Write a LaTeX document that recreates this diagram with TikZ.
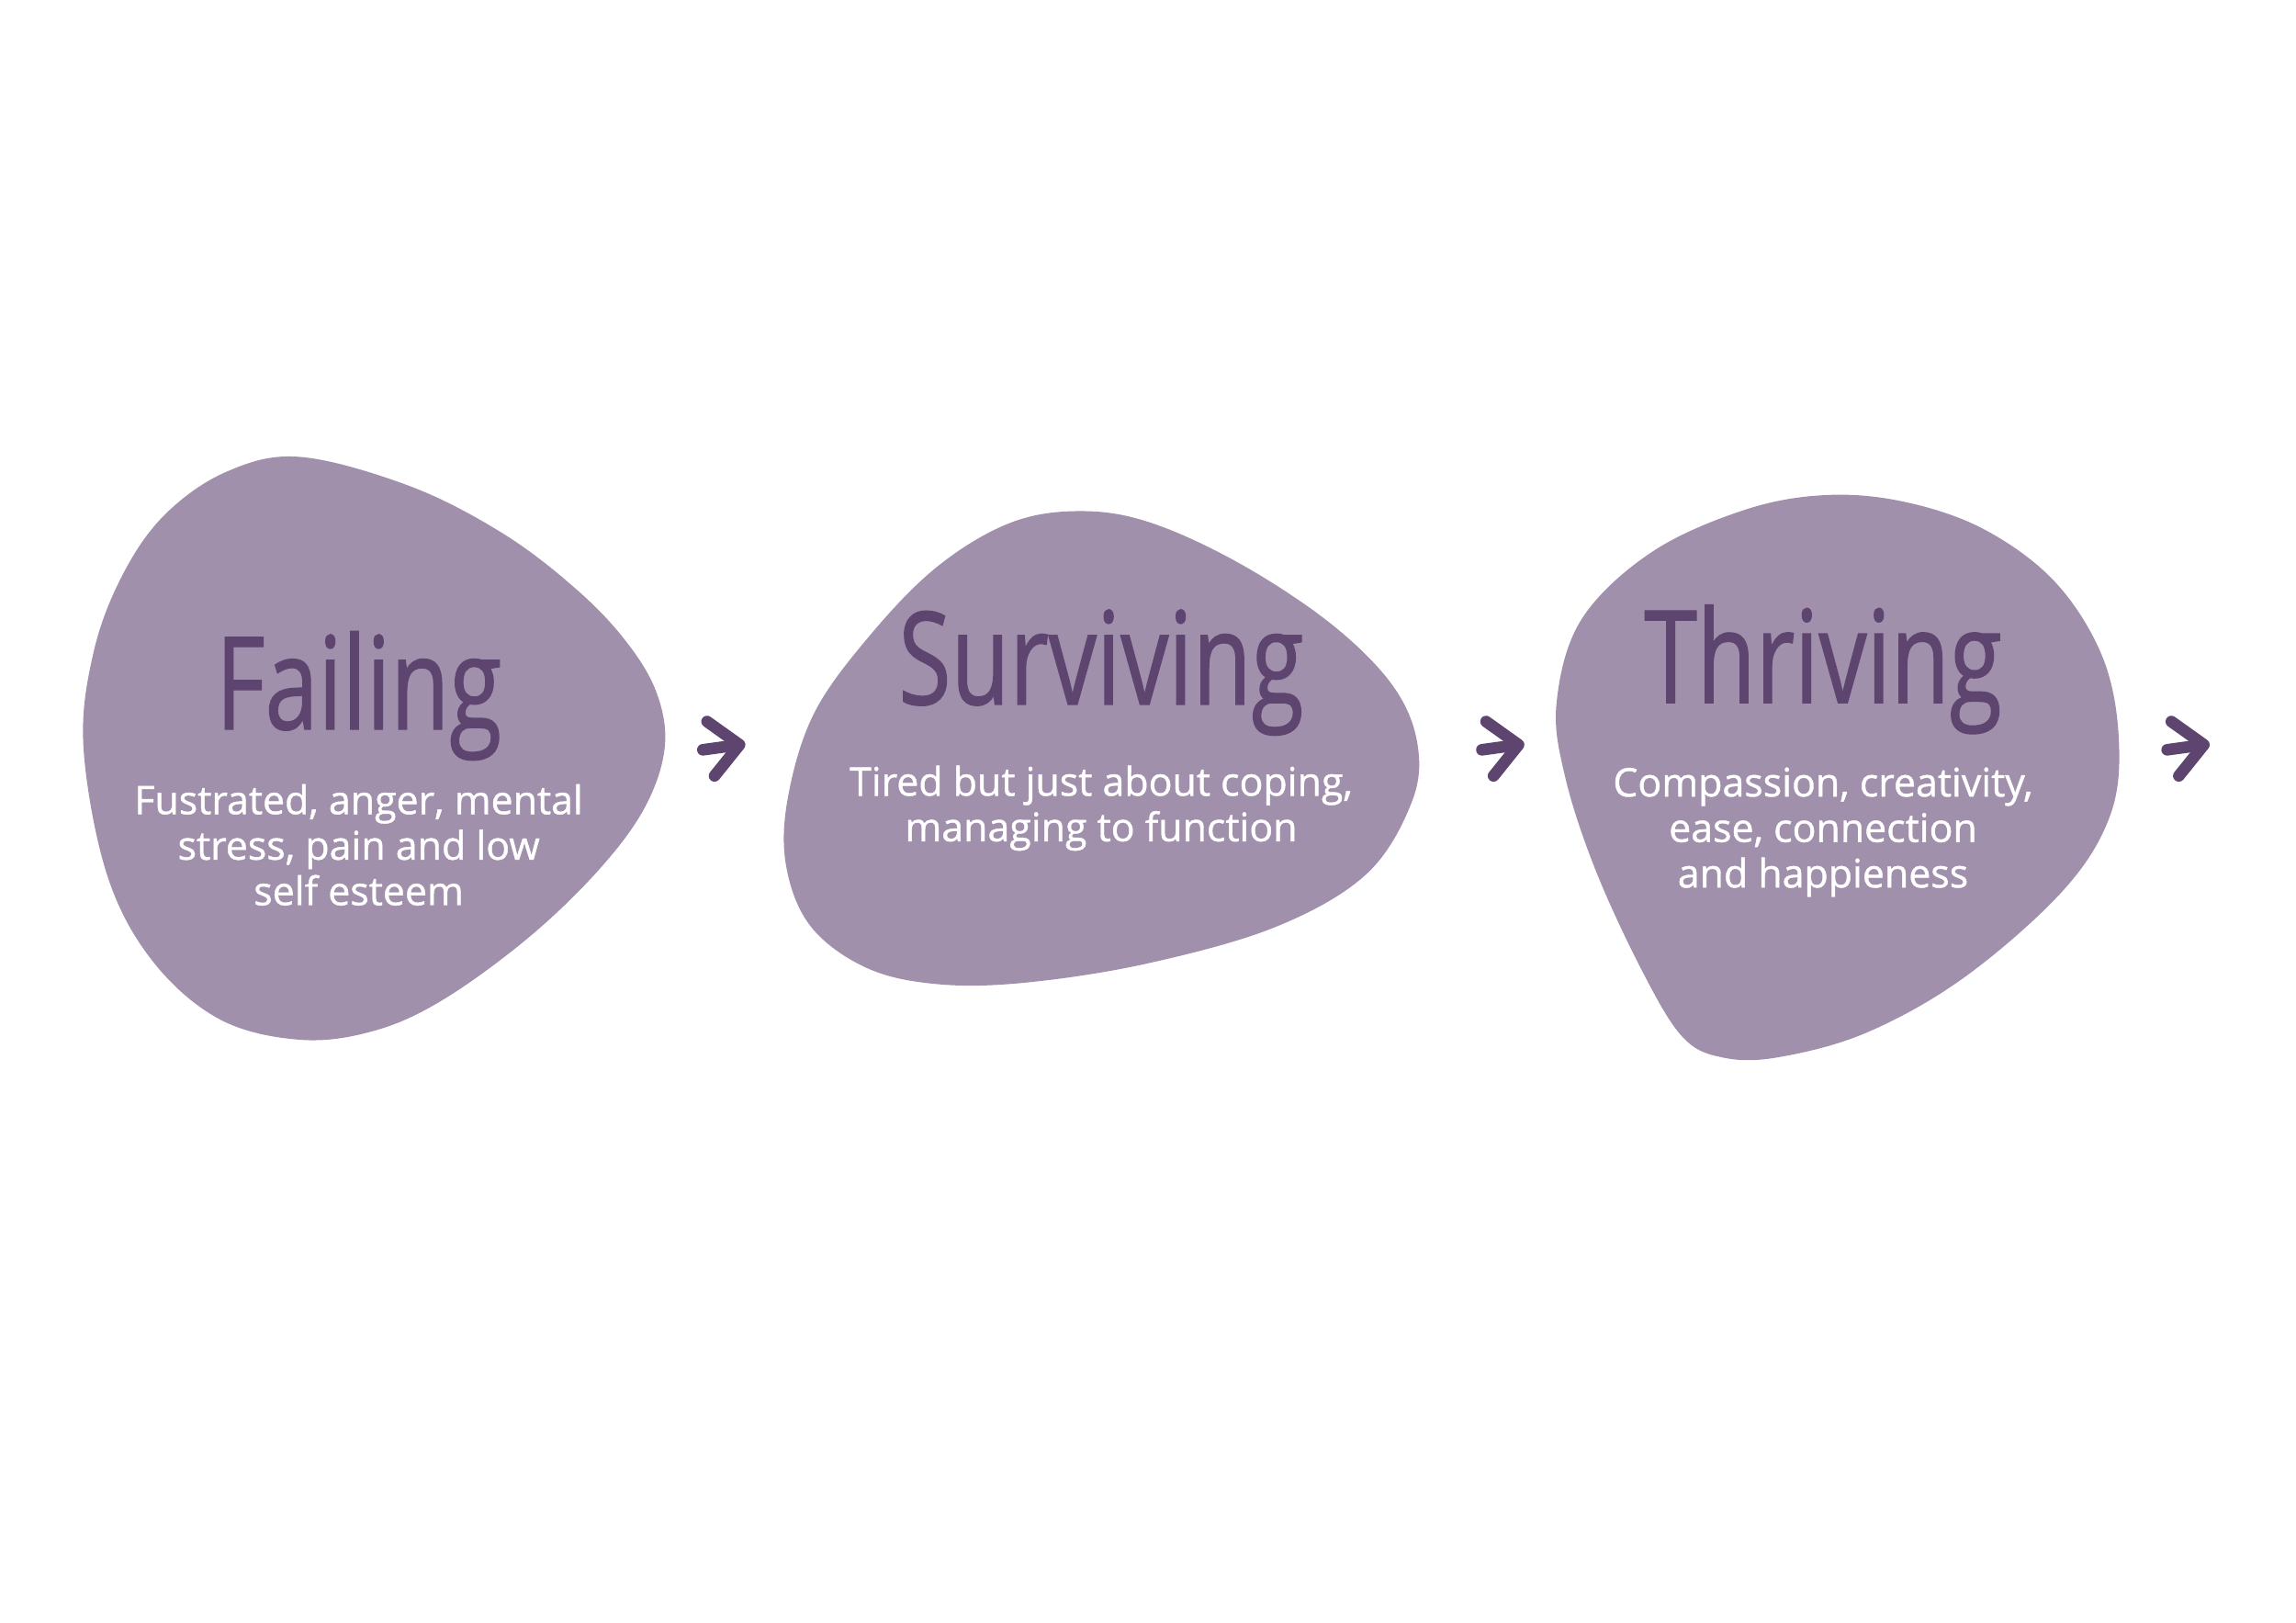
\documentclass[tikz,border=0pt]{standalone}
\usepackage{fontspec}
\setmainfont{Open Sans}
\newfontfamily\handfont[FakeStretch=0.74,FakeBold=0.9]{Open Sans}
\newfontfamily\bodyfont[FakeBold=1]{Open Sans}
\usetikzlibrary{arrows.meta,positioning}
\definecolor{blobfill}{HTML}{A090AB}
\definecolor{plum}{HTML}{5E4570}

\begin{document}
\begin{tikzpicture}[x=0.015944cm, y=-0.015944cm,
  blob/.style={fill=blobfill, draw=none},
  stagetitle/.style={text=plum, font=\handfont\fontsize{40}{44}\selectfont,
                     inner sep=0pt, anchor=base},
  stagetext/.style={text=white, font=\bodyfont\fontsize{12.2}{14.1}\selectfont,
                    align=center, inner sep=0pt},
  arr/.style={-{Straight Barb[length=9pt,width=17pt,round]}, draw=plum,
              line width=3.6pt, line cap=round, line join=round}
]
\useasboundingbox (0,0) rectangle (1568,1108);

% blobs
\fill[blob] plot[smooth cycle, tension=0.6] coordinates {
  (57,510) (64,445) (84,392) (113,351) (155,322) (205,312) (280,332)
  (343,364) (392,401) (426,436) (448,472) (454,510) (440,552) (408,595)
  (360,641) (302,683) (255,704) (205,710) (150,696) (104,656) (73,597)};
\fill[blob] plot[smooth cycle, tension=0.6] coordinates {
  (738,349) (786,357) (847,385) (909,426) (951,468) (968,508) (964,548)
  (933,597) (871,633) (783,658) (700,671) (640,672) (592,661) (554,633)
  (537,592) (538,545) (556,487) (594,434) (640,387) (690,357)};
\fill[blob] plot[smooth cycle, tension=0.6] coordinates {
  (1248,338) (1302,343) (1356,362) (1404,398) (1436,449) (1447,505)
  (1441,557) (1409,608) (1342,667) (1275,705) (1214,722) (1176,722)
  (1149,708) (1122,664) (1090,595) (1069,531) (1063,480) (1080,423)
  (1128,377) (1192,348)};

% titles and texts
\node[stagetitle] (fail) at (245,498) {Failing};
\node[stagetext, below=7pt of fail] (failtxt)
  {Fustrated, anger, mental\\stress, pain and low\\self esteem};
\node[stagetitle] (surv) at (752,481) {Surviving};
\node[stagetext, below=9pt of surv] (survtxt)
  {Tired but just about coping,\\managing to function};
\node[stagetitle] (thri) at (1245,480) {Thriving};
\node[stagetext, below=10pt of thri] (thritxt)
  {Compassion, creativity,\\ease, connection\\and happieness};

% arrows
\coordinate (a1s) at (480,512);
\coordinate (a1e) at (509,508);
\coordinate (a2s) at (1012,512);
\coordinate (a2e) at (1041,508);
\coordinate (a3s) at (1480,512);
\coordinate (a3e) at (1509,508);
\draw[arr] (a1s) -- (a1e);
\draw[arr] (a2s) -- (a2e);
\draw[arr] (a3s) -- (a3e);
\end{tikzpicture}
\end{document}
